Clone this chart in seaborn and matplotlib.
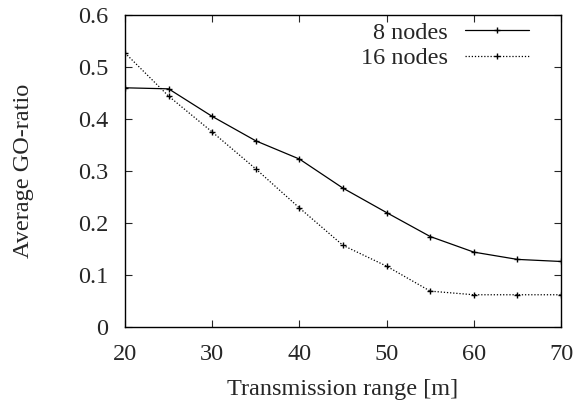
import pandas as pd
import seaborn as sns
import matplotlib.pyplot as plt

# values
ranges = [20, 25, 30, 35, 40, 45, 50, 55, 60, 65, 70]
go_8 = [0.460, 0.458, 0.405, 0.358, 0.323, 0.267, 0.220, 0.174, 0.144, 0.130, 0.126]
go_16 = [0.527, 0.444, 0.375, 0.304, 0.229, 0.157, 0.117, 0.069, 0.062, 0.062, 0.062]

df = pd.concat([
    pd.DataFrame({'range': ranges, 'ratio': go_8, 'nodes': '8 nodes'}),
    pd.DataFrame({'range': ranges, 'ratio': go_16, 'nodes': '16 nodes'}),
])

fs = 17.5
sns.set_style('ticks')
plt.rcParams['font.family'] = ['Liberation Serif', 'DejaVu Serif']
plt.rcParams['font.size'] = fs

fig = plt.figure(figsize=(5.79, 4.07), dpi=100)
ax = fig.add_axes([125 / 579, 80 / 407, 436 / 579, 312 / 407])

sns.lineplot(data=df, x='range', y='ratio', hue='nodes', style='nodes',
             palette=['black', 'black'], dashes=[(None, None), (1, 1.5)],
             markers=['+', '+'], markersize=5, markeredgewidth=1,
             markeredgecolor='black', linewidth=0.9, ax=ax)

ax.set_xlim(20, 70)
ax.set_ylim(0, 0.6)
ax.set_xticks(range(20, 71, 10))
ax.set_yticks([0, 0.1, 0.2, 0.3, 0.4, 0.5, 0.6])
ax.set_yticklabels(['0', '0.1', '0.2', '0.3', '0.4', '0.5', '0.6'])
ax.tick_params(direction='in', top=True, right=True, length=5, width=0.8, labelsize=fs)
ax.tick_params(axis='x', pad=12)
ax.tick_params(axis='y', pad=12)
for s in ax.spines.values():
    s.set_linewidth(1)
    s.set_color('black')

ax.set_xlabel('Transmission range [m]', fontsize=fs, labelpad=10)
ax.set_ylabel('Average GO-ratio', fontsize=fs, labelpad=32)

leg = ax.legend(loc='upper right', bbox_to_anchor=(0.95, 1.01), frameon=False,
                markerfirst=False, handlelength=2.67, fontsize=fs, borderaxespad=0,
                labelspacing=0.14, handletextpad=0.7)

fig.savefig('out.png', dpi=100)
